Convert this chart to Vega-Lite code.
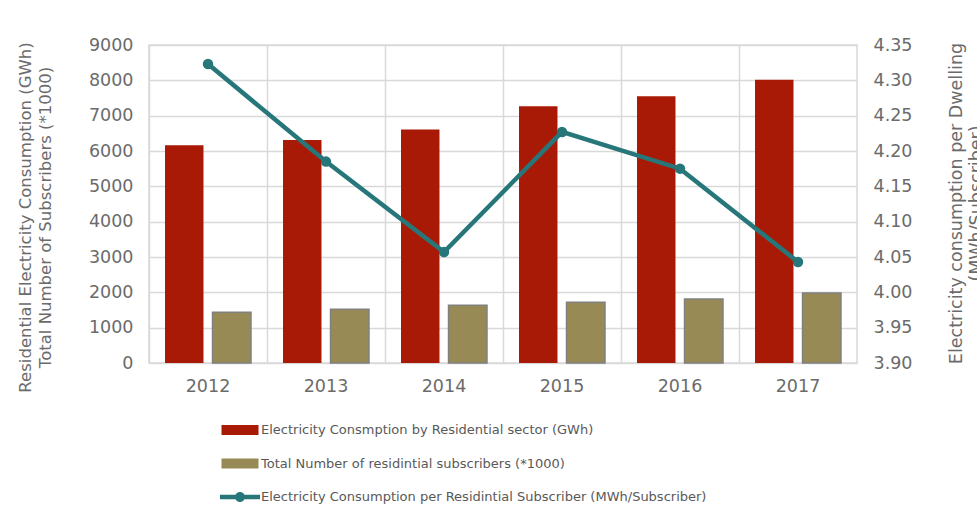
{
  "$schema": "https://vega.github.io/schema/vega-lite/v6.json",
  "width": 708,
  "height": 318,
  "autosize": {"type": "none"},
  "padding": {"left": 149, "top": 45, "right": 120, "bottom": 156},
  "config": {
    "font": "DejaVu Sans",
    "view": {"stroke": "#D9D9D9", "strokeWidth": 1.5},
    "axis": {
      "labelFontSize": 17.5,
      "labelColor": "#6B6B6B",
      "titleFontSize": 16.5,
      "titleFontWeight": "normal",
      "titleColor": "#6B6B6B",
      "domain": false,
      "ticks": false,
      "gridColor": "#D9D9D9",
      "gridWidth": 1.5
    }
  },
  "datasets": {
    "bars": [
      {"year": "2012", "series": "Electricity Consmption by Residential sector (GWh)", "value": 6160},
      {"year": "2013", "series": "Electricity Consmption by Residential sector (GWh)", "value": 6310},
      {"year": "2014", "series": "Electricity Consmption by Residential sector (GWh)", "value": 6610},
      {"year": "2015", "series": "Electricity Consmption by Residential sector (GWh)", "value": 7265},
      {"year": "2016", "series": "Electricity Consmption by Residential sector (GWh)", "value": 7548},
      {"year": "2017", "series": "Electricity Consmption by Residential sector (GWh)", "value": 8019},
      {"year": "2012", "series": "Total Number of residintial subscribers (*1000)", "value": 1434},
      {"year": "2013", "series": "Total Number of residintial subscribers (*1000)", "value": 1519},
      {"year": "2014", "series": "Total Number of residintial subscribers (*1000)", "value": 1632},
      {"year": "2015", "series": "Total Number of residintial subscribers (*1000)", "value": 1717},
      {"year": "2016", "series": "Total Number of residintial subscribers (*1000)", "value": 1811},
      {"year": "2017", "series": "Total Number of residintial subscribers (*1000)", "value": 1981}
    ],
    "line": [
      {"year": "2012", "series": "Electricity Consumption per Residintial Subscriber (MWh/Subscriber)", "value": 4.323},
      {"year": "2013", "series": "Electricity Consumption per Residintial Subscriber (MWh/Subscriber)", "value": 4.185},
      {"year": "2014", "series": "Electricity Consumption per Residintial Subscriber (MWh/Subscriber)", "value": 4.057},
      {"year": "2015", "series": "Electricity Consumption per Residintial Subscriber (MWh/Subscriber)", "value": 4.227},
      {"year": "2016", "series": "Electricity Consumption per Residintial Subscriber (MWh/Subscriber)", "value": 4.175},
      {"year": "2017", "series": "Electricity Consumption per Residintial Subscriber (MWh/Subscriber)", "value": 4.043}
    ],
    "legend": [
      {"year": "2012", "series": "Electricity Consmption by Residential sector (GWh)"},
      {"year": "2012", "series": "Total Number of residintial subscribers (*1000)"},
      {"year": "2012", "series": "Electricity Consumption per Residintial Subscriber (MWh/Subscriber)"}
    ]
  },
  "layer": [
    {
      "data": {"name": "bars"},
      "mark": {"type": "bar", "strokeWidth": 1.5},
      "encoding": {
        "x": {
          "field": "year",
          "type": "nominal",
          "scale": {"paddingInner": 0, "paddingOuter": 0},
          "axis": {"title": null, "labelAngle": 0, "grid": true, "bandPosition": 0, "labelPadding": 14}
        },
        "xOffset": {
          "field": "series",
          "type": "nominal",
          "scale": {
            "domain": ["Electricity Consmption by Residential sector (GWh)", "Total Number of residintial subscribers (*1000)"],
            "paddingInner": 0.19,
            "paddingOuter": 0.337
          }
        },
        "y": {
          "field": "value",
          "type": "quantitative",
          "scale": {"domain": [0, 9000], "nice": false},
          "axis": {
            "values": [0, 1000, 2000, 3000, 4000, 5000, 6000, 7000, 8000, 9000],
            "format": "d",
            "grid": true,
            "labelPadding": 16,
            "title": ["Residential Electricity Consumption (GWh)", "Total Number of Subscribers (*1000)"],
            "titleX": -124,
            "titleY": 172,
            "titleAngle": 270,
            "titleAlign": "center",
            "titleBaseline": "middle",
            "titleLineHeight": 20
          }
        },
        "color": {
          "field": "series",
          "type": "nominal",
          "scale": {
            "domain": [
              "Electricity Consmption by Residential sector (GWh)",
              "Total Number of residintial subscribers (*1000)",
              "Electricity Consumption per Residintial Subscriber (MWh/Subscriber)"
            ],
            "range": ["#A81A06", "#978A55", "#27767A"]
          }
        },
        "stroke": {
          "condition": {"test": "datum.series === 'Total Number of residintial subscribers (*1000)'", "value": "#808080"},
          "value": "transparent"
        }
      }
    },
    {
      "data": {"name": "line"},
      "mark": {"type": "line", "strokeWidth": 4.5, "point": {"filled": true, "size": 110, "opacity": 1}},
      "encoding": {
        "x": {"field": "year", "type": "nominal"},
        "y": {
          "field": "value",
          "type": "quantitative",
          "scale": {"domain": [3.9, 4.35], "nice": false, "zero": false},
          "axis": {
            "orient": "right",
            "values": [3.9, 3.95, 4.0, 4.05, 4.1, 4.15, 4.2, 4.25, 4.3, 4.35],
            "format": ".2f",
            "grid": false,
            "labelPadding": 16,
            "title": ["Electricity consumption per Dwelling", "(MWh/Subscriber)"],
            "titleX": 99,
            "titleY": 158,
            "titleAngle": 270,
            "titleAlign": "center",
            "titleBaseline": "middle",
            "titleFontSize": 17.5,
            "titleLineHeight": 20
          }
        },
        "color": {"field": "series", "type": "nominal"}
      }
    },
    {
      "data": {"name": "legend"},
      "mark": {"type": "point", "filled": true, "opacity": 0},
      "encoding": {
        "x": {"field": "year", "type": "nominal"},
        "color": {
          "field": "series",
          "type": "nominal",
          "legend": {
            "orient": "none",
            "legendX": 81,
            "legendY": 375,
            "title": null,
            "symbolType": "M-1.85,-0.5H1.85V0.5H-1.85Z",
            "symbolSize": 400,
            "symbolOpacity": 1,
            "symbolStrokeWidth": 0,
            "labelFontSize": 13,
            "labelColor": "#595959",
            "labelOffset": 11,
            "labelLimit": 0,
            "rowPadding": 16.5
          }
        },
        "shape": {
          "field": "series",
          "type": "nominal",
          "scale": {
            "domain": [
              "Electricity Consmption by Residential sector (GWh)",
              "Total Number of residintial subscribers (*1000)",
              "Electricity Consumption per Residintial Subscriber (MWh/Subscriber)"
            ],
            "range": [
              "M-1.85,-0.5H1.85V0.5H-1.85Z",
              "M-1.85,-0.5H1.85V0.5H-1.85Z",
              "M-2,-0.22H2V0.22H-2ZM-0.5,0A0.5,0.5,0,1,1,0.5,0A0.5,0.5,0,1,1,-0.5,0Z"
            ]
          },
          "legend": {
            "orient": "none",
            "legendX": 81,
            "legendY": 375,
            "title": null,
            "symbolSize": 400,
            "symbolOpacity": 1,
            "symbolStrokeWidth": 0,
            "labelFontSize": 13,
            "labelColor": "#595959",
            "labelOffset": 11,
            "labelLimit": 0,
            "rowPadding": 16.5
          }
        }
      }
    }
  ],
  "resolve": {"scale": {"y": "independent"}}
}
